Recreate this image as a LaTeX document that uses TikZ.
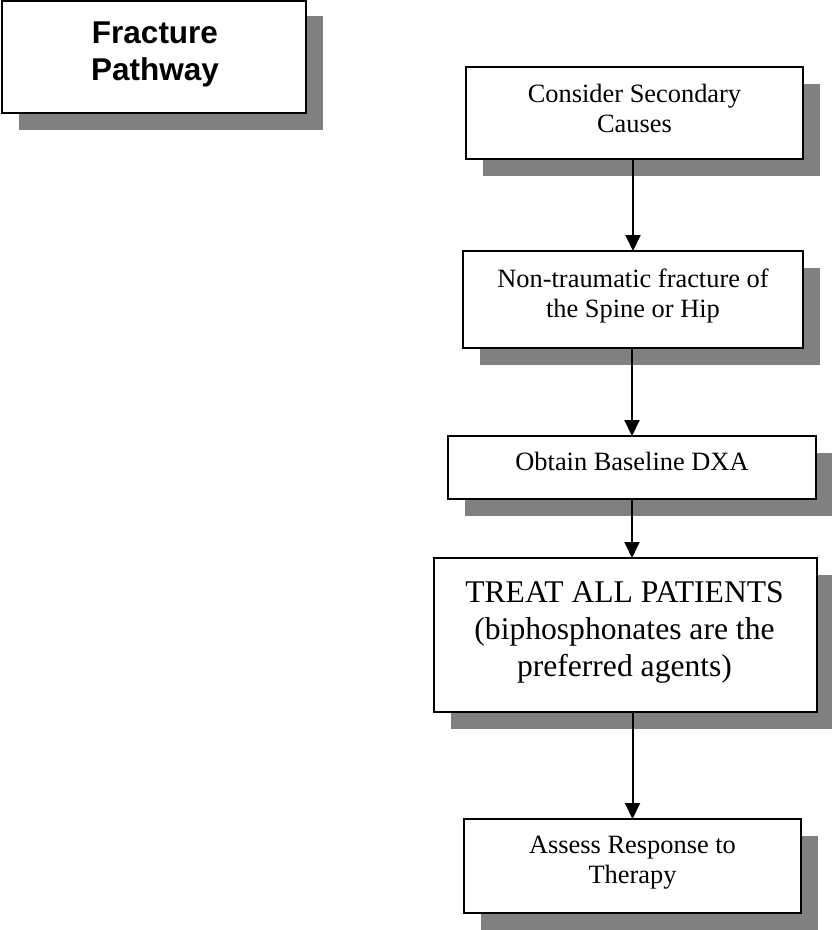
\documentclass[tikz,border=0pt]{standalone}
\usepackage{fontspec}
\setmainfont{Liberation Serif}
\newfontfamily\headfont{Liberation Sans}
\usetikzlibrary{shadows,arrows.meta}
\definecolor{shadowgray}{RGB}{128,128,128}
\tikzset{
  stepbox/.style={draw=black, line width=2pt, fill=white, rectangle,
    inner sep=0pt, outer sep=0pt,
    general shadow={fill=shadowgray, shadow xshift=17pt, shadow yshift=-17pt}},
  titlebox/.style={stepbox, line width=2.5pt,
    general shadow={fill=shadowgray, shadow xshift=17pt, shadow yshift=-15pt}},
  boxtext/.style={inner sep=0pt, outer sep=0pt, align=center, anchor=north,
    font=\fontsize{26.4}{30.4}\selectfont},
  bigtext/.style={boxtext, font=\fontsize{31.6}{36.7}\selectfont},
  headtext/.style={boxtext, font=\headfont\bfseries\fontsize{31.5}{36.5}\selectfont},
  flow/.style={line width=2pt, -{Triangle[width=15pt,length=16pt]}}
}
\begin{document}
\begin{tikzpicture}[x=1pt, y=-1pt]
  \useasboundingbox (0,0) rectangle (832,930);

  % title
  \node[titlebox, minimum width=304pt, minimum height=112pt] (title) at (154,57) {};
  \node[headtext] (titletext) at (155,22) {Fracture\\Pathway};

  % pathway steps
  \node[stepbox, minimum width=337pt, minimum height=92pt] (b1) at (634.5,113) {};
  \node[boxtext] (t1) at (634.5,84) {Consider Secondary\\Causes};

  \node[stepbox, minimum width=340pt, minimum height=97pt] (b2) at (633,299.5) {};
  \node[boxtext] (t2) at (633,269) {Non-traumatic fracture of\\the Spine or Hip};

  \node[stepbox, minimum width=368pt, minimum height=63pt] (b3) at (632,467.5) {};
  \node[boxtext] (t3) at (632,452) {Obtain Baseline DXA};

  \node[stepbox, minimum width=383pt, minimum height=154pt] (b4) at (625.5,635) {};
  \node[bigtext] (t4) at (624.5,582) {TREAT ALL PATIENTS\\(biphosphonates are the\\preferred agents)};

  \node[stepbox, minimum width=337pt, minimum height=94pt] (b5) at (632.5,866) {};
  \node[boxtext] (t5) at (632.5,836) {Assess Response to\\Therapy};

  % connectors
  \draw[flow] (b1.south -| b2.north) -- (b2.north);
  \draw[flow] (b2.south -| b3.north) -- (b3.north);
  \draw[flow] (b3.south) -- (b3.south |- b4.north);
  \draw[flow] (b4.south -| b5.north) -- (b5.north);
\end{tikzpicture}
\end{document}
